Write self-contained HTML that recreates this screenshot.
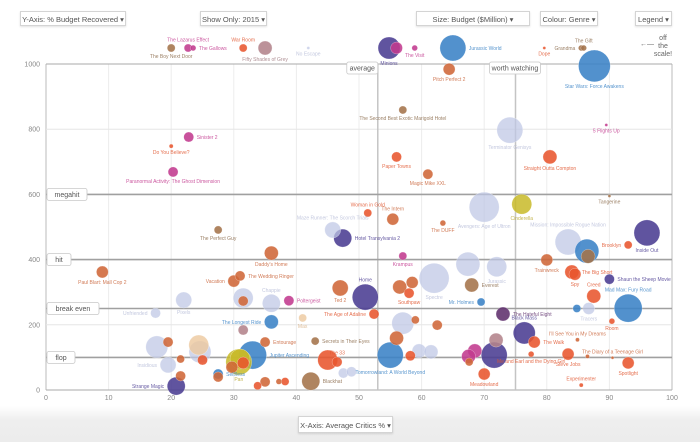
<!DOCTYPE html>
<html><head><meta charset="utf-8">
<style>
html,body{margin:0;padding:0;background:#fff;}
body{width:700px;height:442px;overflow:hidden;position:relative;font-family:"Liberation Sans",sans-serif;}
.btn{position:absolute;background:#fff;border:1px solid #d4d4d4;box-shadow:0 1px 2px rgba(0,0,0,0.12);font-size:7.5px;color:#555;height:15px;line-height:15px;text-align:center;box-sizing:border-box;}
#band{position:absolute;left:0;top:406px;width:700px;height:36px;background:linear-gradient(#fff,#eeeeee 40%,#ececec);}
svg{position:absolute;left:0;top:0;}
</style></head>
<body>
<div id="band"></div>
<svg id="chart" width="700" height="442"></svg>
<div class="btn" style="left:20px;top:11px;width:106px;">Y-Axis: % Budget Recovered ▾</div>
<div class="btn" style="left:200px;top:11px;width:67px;">Show Only: 2015 ▾</div>
<div class="btn" style="left:416px;top:11px;width:114px;">Size: Budget ($Million) ▾</div>
<div class="btn" style="left:540px;top:11px;width:58px;">Colour: Genre ▾</div>
<div class="btn" style="left:635px;top:11px;width:37px;">Legend ▾</div>
<div class="btn" style="left:298px;top:416px;width:95px;height:17px;line-height:17px;">X-Axis: Average Critics % ▾</div>
<script>
const names=["The Boy Next Door","The Lazarus Effect","The Gallows","War Room","Fifty Shades of Grey","No Escape","Minions","","The Visit","Jurassic World","Dope","Grandma","The Gift","Star Wars: Force Awakens","Pitch Perfect 2","The Second Best Exotic Marigold Hotel","Terminator Genisys","5 Flights Up","Paper Towns","Magic Mike XXL","Straight Outta Compton","Sinister 2","Do You Believe?","Paranormal Activity: The Ghost Dimension","The Perfect Guy","Woman in Gold","The Intern","The DUFF","Avengers: Age of Ultron","Cinderella","Tangerine","Maze Runner: The Scorch Trials","Hotel Transylvania 2","Mission: Impossible Rogue Nation","Inside Out","Brooklyn","","","Daddy's Home","Paul Blart: Mall Cop 2","Vacation","The Wedding Ringer","Krampus","","Jurassic","Home","","","Southpaw","Spectre","Everest","Trainwreck","The Big Short","Spy","Shaun the Sheep Movie","Creed","Mad Max: Fury Road","Tracers","","Room","The Hateful Eight","Mr. Holmes","Ted 2","Pixels","","","Chappie","Poltergeist","Unfriended","The Longest Ride","Max","The Age of Adaline","","","","","","","","","Entourage","Secrets in Their Eyes","","","","Tomorrowland: A World Beyond","","","","","","","","Black Mass","The Walk","Me and Earl and the Dying Girl","Steve Jobs","I'll See You in My Dreams","","The Diary of a Teenage Girl","Spotlight","Experimenter","Meadowland","","Strange Magic","","","Insidious","","Self/less","","Pan","","","","Jupiter Ascending","","","","","Blackhat","","The 33"];
const critics=[20,22.7,23.5,31.5,35,41.9,54.8,56,58.9,65,79.6,85.5,85.9,87.6,64.4,57,74.1,89.5,56,61,80.5,22.8,20,20.3,27.5,51.4,55.4,63.4,70,76,90,45.8,47.4,83.4,96,93,86.4,86.6,36,9,30,31,57,67.4,72,51,56.5,58.5,58,62,68,80,84,84.5,90,87.5,93,86.7,84.8,90.4,73,69.5,47,22,31.5,31.5,36,38.8,17.5,36,41,52.4,57,59,62.5,31.5,24.4,17.7,19.5,24.6,35,43,45,47.5,56,55,59.6,61.5,58.2,68.5,67.5,71.9,71.6,76.4,78,77.5,83.4,84.9,86.5,90.5,93,85.5,70,67.6,20.8,21.5,21.5,19.5,25,27.5,27.5,30.8,31,29.7,31.5,33,35,33.8,37.2,38.2,42.3,48.8,46.5];
const recovered=[1500,1500,1500,1500,1500,1500,1500,1500,1500,1500,1500,1500,1500,994,984,859,797,813,715,662,715,776,748,669,491,543,524,512,561,570,595,491,466,454,482,445,426,410,420,362,334,350,411,386,378,285,316,330,297,343,322,399,362,355,340,288,251,250,250,211,233,270,313,276,282,273,266,274,236,209,221,233,205,215,199,184,138,132,147,117,147,150,92,52,159,107,120,117,105,120,103,153,107,175,147,110,110,154,103,99,83,15,49,86,12,43,95,77,92,49,40,86,95,70,83,107,25,13,26,26,27,56,86];
const budget=[9.5,9.5,5,9.5,29,1,72,21,5,100,1,5,5,150,21,9.5,100,1,15,15,29,15,2.4,15,9.5,9.5,21,5,133,59,1,38,48,100,100,9.5,85,29,29,21,21,15,9.5,85,59,100,29,21,15,133,29,21,29,21,15,29,116,21,9.5,5,29,9.5,38,38,59,15,48,15,15,29,9.5,15,72,9.5,15,15,59,72,15,72,15,9.5,59,15,29,100,29,29,15,29,29,29,100,72,21,5,21,2.4,2.4,1,21,2.4,21,9.5,48,15,9.5,38,15,15,15,100,59,21,21,116,15,9.5,5,9.5,48,15,15];
const genre=["T","H","H","C","M","S","A","H","H","X","C","T","T","X","D","T","S","H","C","D","C","H","C","H","T","C","D","D","S","F","T","S","A","S","A","C","X","T","D","D","D","D","H","S","S","A","D","D","C","S","T","D","C","C","A","C","X","S","X","C","B","X","D","S","S","D","S","H","S","X","R","C","S","D","D","M","R","S","D","S","D","T","C","S","D","X","S","S","C","H","H","M","A","A","C","C","C","D","D","D","C","C","C","D","A","D","D","S","C","X","D","F","F","D","C","X","D","C","D","C","T","S","C"];
const labelPos=["b","t","r","t","b","b","b","b","b","r","b","l","t","b","b","b","b","b","b","b","b","r","b","b","b","t","t","b","b","b","b","t","r","t","b","l","b","b","b","b","l","r","b","b","b","t","b","b","b","b","r","b","r","b","r","t","t","b","b","b","r","l","b","b","t","b","t","r","l","l","b","l","b","b","b","b","b","b","b","b","r","r","b","b","b","b","b","b","b","b","b","b","b","t","r","b","b","t","b","t","b","t","b","b","l","b","b","l","b","r","b","b","b","b","b","r","b","b","b","b","r","b","t"];
const yTicks=[0,200,400,600,800,1000];
const xTicks=[0,10,20,30,40,50,60,70,80,90,100];
const refLines=[[600,"megahit"],[400,"hit"],[250,"break even"],[100,"flop"]];
const vRefs=[[53,"average"],[75,"worth watching"]];

const colors={C:"#e8552e",D:"#cf6638",A:"#4a3c92",X:"#3a82c6",S:"rgba(190,198,228,0.72)",H:"#c23a8e",T:"#a4734a",R:"rgba(236,200,158,0.8)",F:"rgba(200,186,40,0.85)",M:"#b3838b",B:"#5e2f6c"};
const lblColors={C:"#e0552e",D:"#c9643a",A:"#4a3c92",X:"#3a82c6",S:"#b7bdd8",H:"#c23a8e",T:"#8a6a4a",R:"#d9b48a",F:"#b8a830",M:"#a07a80",B:"#5e2f6c"};
const L=46,R=672,T=64,B=390;
const xs=v=>L+(R-L)*v/100;
const ys=v=>v>1000?48:B-(B-T)*v/1000;
const rs=b=>Math.max(1.5,1.3*Math.sqrt(b));
const NS="http://www.w3.org/2000/svg";
const svg=document.getElementById('chart');
function mk(t,a,p){const e=document.createElementNS(NS,t);for(const k in a)e.setAttribute(k,a[k]);(p||svg).appendChild(e);return e;}
xTicks.forEach(v=>{
 const g=mk('line',{x1:xs(v),x2:xs(v),y1:T,y2:B,stroke:(v===0||v===100)?'#bbb':'#ececec','stroke-width':1});
 
 
 const t=mk('text',{x:xs(v),y:B+10,'font-size':7,fill:'#888','text-anchor':'middle'});
 t.textContent=v;
 
 
});
yTicks.forEach(v=>{
 const g=mk('line',{x1:L,x2:R,y1:ys(v),y2:ys(v),stroke:(v===0||v===1000)?'#aaa':'#e6e6e6','stroke-width':1});
 
 
 const t=mk('text',{x:L-6,y:ys(v)+2.5,'font-size':7,fill:'#888','text-anchor':'end'});
 t.textContent=v;
 
 
});
vRefs.forEach(([v,lab])=>{
 const l=mk('line',{x1:xs(v),x2:xs(v),y1:T,y2:B,stroke:'#c4c4c4','stroke-width':1.5});
 
 
});
refLines.forEach(([v,lab])=>{
 const l=mk('line',{x1:L,x2:R,y1:ys(v),y2:ys(v),stroke:'#a0a0a0','stroke-width':1.6});
 
 
});
const idx=names.map((_,i)=>i).sort((a,b)=>budget[b]-budget[a]);
idx.forEach(i=>{
 const c=mk('circle',{cx:xs(critics[i]),cy:ys(recovered[i]),r:rs(budget[i]),fill:colors[genre[i]],'fill-opacity':genre[i]==='S'||genre[i]==='R'||genre[i]==='F'?1:0.88,stroke:'rgba(255,255,255,0.5)','stroke-width':0.5});
 
 
});
names.forEach((n,i)=>{
 if(!n)return;
 const x=xs(critics[i]),y=ys(recovered[i]),r=rs(budget[i]),p=labelPos[i];
 let a={'font-size':5,fill:lblColors[genre[i]],'fill-opacity':0.85};
 if(p==='b'){a.x=x;a.y=y+r+6;a['text-anchor']='middle';}
 else if(p==='t'){a.x=x;a.y=y-r-2.5;a['text-anchor']='middle';}
 else if(p==='r'){a.x=x+r+3;a.y=y+2;a['text-anchor']='start';}
 else {a.x=x-r-3;a.y=y+2;a['text-anchor']='end';}
 const t=mk('text',a);t.textContent=n;
 
 
});
function box(x,y,w,txt,name){
 const r=mk('rect',{x:x,y:y,width:w,height:12,rx:2,fill:'#fff',stroke:'#c8c8c8','stroke-width':0.8});
 
 
 const t=mk('text',{x:x+w/2,y:y+8.5,'font-size':7,fill:'#555','text-anchor':'middle'});
 t.textContent=txt;
 
 
}
refLines.forEach(([v,lab])=>{
 const w=lab.length*4+12;
 box(47,ys(v)-6,w,lab,'reference-label');
});
box(xs(vRefs[0][0])-31,62,31,vRefs[0][1],'average-label');
box(xs(vRefs[1][0])-26,62,51,vRefs[1][1],'worth-watching-label');
const o=mk('text',{x:640,y:46,'font-size':7,fill:'#666'});o.textContent='\u2190\u2014';


[['off',40],['the',48],['scale!',56]].forEach(([s,yy])=>{
 const t=mk('text',{x:663,y:yy,'font-size':7,fill:'#666','text-anchor':'middle'});t.textContent=s;
 
 
});
</script>
</body></html>
